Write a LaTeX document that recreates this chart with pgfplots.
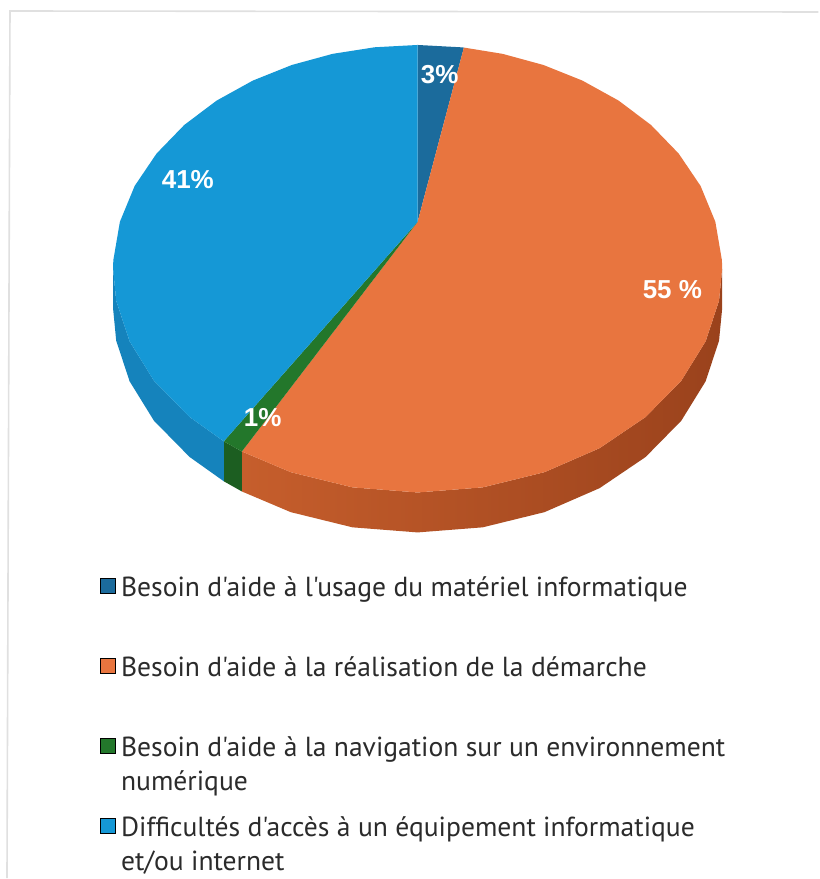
\documentclass[border=0pt]{standalone}
\usepackage{pgfplots}
\pgfplotsset{compat=1.18}
\usepackage{fontspec}
\newfontfamily\legfont{PT Sans}
\newfontfamily\labfont{Liberation Sans}
\definecolor{cA}{HTML}{1B6B9C}
\definecolor{cB}{HTML}{E8753F}
\definecolor{cC}{HTML}{23772B}
\definecolor{cD}{HTML}{1598D6}
\definecolor{cBsideL}{HTML}{C65E2C}
\definecolor{cBsideR}{HTML}{9A421C}
\definecolor{cCside}{HTML}{1C5E21}
\definecolor{cDside}{HTML}{1583BC}
\definecolor{txt}{HTML}{2B2B2B}
\begin{document}
\begin{tikzpicture}
\begin{axis}[
  scale only axis, width=409.5pt, height=439.5pt,
  xmin=0, xmax=819, ymin=0, ymax=879, y dir=reverse,
  axis lines=none, clip=false,
  legend style={at={(0.1221,0.3436)}, anchor=north west, draw=none, fill=none,
    inner sep=0pt, row sep=28.5pt, column sep=2.5pt,
    font=\legfont\fontsize{13.8}{16}\selectfont, text=txt,
    cells={anchor=west}, nodes={inner sep=0pt}},
  legend image code/.code={\fill[#1] (0pt,-2.5pt) rectangle (7.5pt,5pt);},
]
% background and faint frame
\fill[white] (rel axis cs:0,0) rectangle (rel axis cs:1,1);
\draw[black!12, line width=0.8pt] (axis cs:7,879) -- (axis cs:10,11) -- (axis cs:819,12);

% side faces (depth 40 px)
\addplot[forget plot, draw=none, left color=cBsideL, right color=cBsideR] coordinates {
 (722.8,269.0) (719.7,300.9) (706.3,341.6) (681.9,381.1) (646.2,417.4) (600.1,448.6)
 (545.0,472.6) (483.2,487.8) (418,492.9) (352.8,487.8) (291.0,472.6) (242.1,451.9)
 (242.1,491.9) (291.0,512.6) (352.8,527.8) (418,532.9) (483.2,527.8) (545.0,512.6)
 (600.1,488.6) (646.2,457.4) (681.9,421.1) (706.3,381.6) (719.7,340.9) (722.8,309.0)
} -- cycle;
\addplot[forget plot, draw=none, fill=cCside] coordinates {
 (242.1,451.9) (224.0,441.7) (224.0,481.7) (242.1,491.9)
} -- cycle;
\addplot[forget plot, draw=none, fill=cDside] coordinates {
 (224.0,441.7) (189.8,417.4) (154.1,381.1) (129.7,341.6) (116.3,300.9) (113.2,269.0)
 (113.2,309.0) (116.3,340.9) (129.7,381.6) (154.1,421.1) (189.8,457.4) (224.0,481.7)
} -- cycle;

% top faces: 3 %, 55 %, 1 %, 41 %
\addplot[forget plot, draw=none, fill=cA] coordinates {
 (418,222) (418,45.0) (460.9,47.3) (464.3,47.6)
} -- cycle;
\addplot[forget plot, draw=none, fill=cB] coordinates {
 (418,222) (464.3,47.6) (503.1,53.9) (544.1,65.1) (583.0,80.7) (619.2,100.7) (651.6,125.1)
 (679.3,153.7) (701.2,186.1) (716,222) (722.6,260.6) (722.8,269.0) (719.7,300.9)
 (706.3,341.6) (681.9,381.1) (646.2,417.4) (600.1,448.6) (545.0,472.6) (483.2,487.8)
 (418,492.9) (352.8,487.8) (291.0,472.6) (242.1,451.9)
} -- cycle;
\addplot[forget plot, draw=none, fill=cC] coordinates {
 (418,222) (242.1,451.9) (224.0,441.7)
} -- cycle;
\addplot[forget plot, draw=none, fill=cD] coordinates {
 (418,222) (224.0,441.7) (189.8,417.4) (154.1,381.1) (129.7,341.6) (116.3,300.9)
 (113.2,269.0) (113.4,260.6) (120,222) (134.8,186.1) (156.7,153.7) (184.4,125.1)
 (216.8,100.7) (253.0,80.7) (291.9,65.1) (332.9,53.9) (375.1,47.3) (418,45.0)
} -- cycle;

% data labels
\node[text=white, font=\labfont\bfseries\fontsize{13}{15}\selectfont] at (axis cs:440,75) {3\%};
\node[text=white, font=\labfont\bfseries\fontsize{13}{15}\selectfont] at (axis cs:188,180) {41\%};
\node[text=white, font=\labfont\bfseries\fontsize{13}{15}\selectfont] at (axis cs:673,290) {55 \%};
\node[text=white, font=\labfont\bfseries\fontsize{13}{15}\selectfont] at (axis cs:263,418) {1\%};

% legend
\addlegendimage{fill=cA}
\addlegendentry{\parbox[t]{340pt}{\baselineskip=17pt\rule{0pt}{10pt}Besoin d'aide à l'usage du matériel informatique}}
\addlegendimage{fill=cB}
\addlegendentry{\parbox[t]{340pt}{\baselineskip=17pt\rule{0pt}{10pt}Besoin d'aide à la réalisation de la démarche}}
\addlegendimage{fill=cC}
\addlegendentry{\parbox[t]{340pt}{\baselineskip=17pt\rule{0pt}{10pt}Besoin d'aide à la navigation sur un environnement\\numérique}}
\addlegendimage{fill=cD}
\addlegendentry{\parbox[t]{340pt}{\baselineskip=17pt\rule{0pt}{10pt}Difficultés d'accès à un équipement informatique\\et/ou internet}}
\end{axis}
\end{tikzpicture}
\end{document}
